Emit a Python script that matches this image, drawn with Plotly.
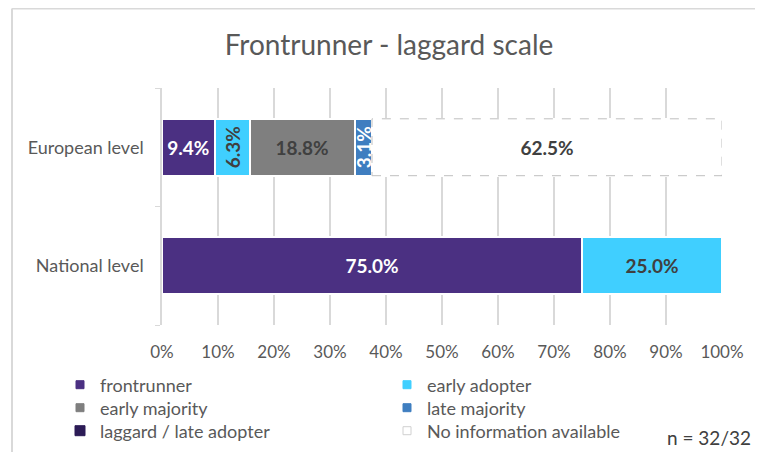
import plotly.graph_objects as go

categories = ["European level", "National level"]
series_names = ["frontrunner", "early adopter", "early majority", "late majority",
                "laggard / late adopter", "No information available"]
european_values = [9.375, 6.25, 18.75, 3.125, 0, 62.5]
national_values = [75.0, 25.0, 0, 0, 0, 0]
x_tick_values = [0, 10, 20, 30, 40, 50, 60, 70, 80, 90, 100]
x_tick_labels = ["0%", "10%", "20%", "30%", "40%", "50%", "60%", "70%", "80%", "90%", "100%"]

colors = ["#4B3082", "#40CFFF", "#7F7F7F", "#3F7EC0", "#2C1B56", "#FFFFFF"]
text_colors = ["#FFFFFF", "#404040", "#404040", "#FFFFFF", "#FFFFFF", "#404040"]
rotate_eu = [False, True, False, True, False, False]
legend_symbol_size = [8, 8, 8, 8, 10, 8]

FONT = "Lato, 'Source Sans Pro', sans-serif"
GRAY = "#595959"
BAR_W = 0.48

# the page body adds an 8px offset; figure coords = reference coords - 8
OFF = 8
W, H = 763 - OFF, 452 - OFF

fig = go.Figure()

values_by_cat = {"European level": european_values, "National level": national_values}

legend_names = ["legend", "legend2", "legend3", "legend4", "legend5", "legend6"]

for i, name in enumerate(series_names):
    is_noinfo = name == "No information available"
    for cat in categories:
        v = values_by_cat[cat][i]
        if v <= 0:
            continue
        rot = -90 if (cat == "European level" and rotate_eu[i]) else 0
        fig.add_trace(go.Bar(
            y=[cat], x=[v], orientation="h", name=name,
            legendgroup=name, showlegend=False,
            width=BAR_W,
            marker=dict(color=colors[i], line=dict(color="#FFFFFF", width=2)),
            text=[v], texttemplate="<b>%{x:.1f}%</b>",
            textposition="inside", insidetextanchor="middle",
            textangle=rot,
            insidetextfont=dict(family=FONT, size=19, color=text_colors[i]),
            hoverinfo="skip",
        ))
    # legend-only entry
    fig.add_trace(go.Scatter(
        y=[None], x=[None], mode="markers", name=name, legendgroup=name,
        showlegend=True, legend=legend_names[i],
        marker=dict(symbol="square", size=legend_symbol_size[i], color=colors[i],
                    line=dict(color="#D0D0D0" if is_noinfo else colors[i], width=1)),
        hoverinfo="skip",
    ))

# dashed outline for the "No information available" segment (from data)
eu_idx = 1  # position of European level on the category axis (bottom = 0)
start = sum(european_values[:5])
end = start + european_values[5]
fig.add_shape(type="rect", xref="x", yref="y",
              x0=start, x1=end, y0=eu_idx - BAR_W / 2, y1=eu_idx + BAR_W / 2,
              line=dict(color="#BFBFBF", width=1, dash="dash"), fillcolor="rgba(0,0,0,0)")

# plot area in reference pixels: x 162..722, y 88..325
l, r, t, b = 162 - OFF, 763 - 722, 88 - OFF, 452 - 325
pw, ph = W - l - r, H - t - b
def px_x(p): return (p - OFF - l) / pw
def px_y(p): return (H - b - (p - OFF)) / ph

# outer chart border (top and left)
fig.add_shape(type="line", xref="paper", yref="paper",
              x0=px_x(12), x1=px_x(790), y0=px_y(8.5), y1=px_y(8.5),
              line=dict(color="#D9D9D9", width=2))
fig.add_shape(type="line", xref="paper", yref="paper",
              x0=px_x(12), x1=px_x(12), y0=px_y(8.5), y1=px_y(480),
              line=dict(color="#D9D9D9", width=2))

fig.add_annotation(text="n = 32/32", xref="paper", yref="paper",
                   x=px_x(753), y=px_y(437), xanchor="right", yanchor="middle",
                   showarrow=False, font=dict(family=FONT, size=19, color="#404040"))

legend_common = dict(orientation="v", xref="container", yref="container",
                     xanchor="left", yanchor="middle", traceorder="normal",
                     font=dict(family=FONT, size=18, color=GRAY),
                     itemwidth=30, bgcolor="rgba(0,0,0,0)", borderwidth=0,
                     tracegroupgap=0)
row_y = [385, 385, 408, 408, 431, 431]
col_text_x = [100, 427, 100, 427, 100, 427]
legends = {}
for i, ln in enumerate(legend_names):
    legends[ln] = dict(x=(col_text_x[i] - 40 - OFF) / W,
                       y=1 - (row_y[i] - OFF) / H, **legend_common)

fig.update_layout(
    width=W, height=H,
    margin=dict(l=l, r=r, t=t, b=b, autoexpand=False),
    paper_bgcolor="white", plot_bgcolor="white",
    barmode="stack", bargap=1 - BAR_W,
    title=dict(text="Frontrunner - laggard scale", x=(389 - OFF) / W, xanchor="center",
               y=1 - (45 - OFF) / H, yanchor="middle", yref="container",
               font=dict(family=FONT, size=28, color=GRAY)),
    font=dict(family=FONT, color=GRAY),
    showlegend=True,
    uniformtext=dict(minsize=19, mode="show"),
    hovermode=False,
    **legends,
)

fig.update_xaxes(range=[0, 100], tickvals=x_tick_values, ticktext=x_tick_labels,
                 showgrid=True, gridcolor="#D9D9D9", gridwidth=1.5,
                 zeroline=False, showline=False,
                 ticks="outside", ticklen=12, tickcolor="rgba(0,0,0,0)",
                 tickfont=dict(family=FONT, size=17, color=GRAY), fixedrange=True)
fig.update_yaxes(type="category", categoryorder="array",
                 categoryarray=["National level", "European level"],
                 showline=True, linecolor="#D9D9D9", linewidth=1.5,
                 ticks="outside", tickson="boundaries", ticklen=5, tickcolor="#D9D9D9",
                 showgrid=False, ticklabelstandoff=13,
                 tickfont=dict(family=FONT, size=18, color=GRAY), fixedrange=True)

fig.write_html("out.html")
